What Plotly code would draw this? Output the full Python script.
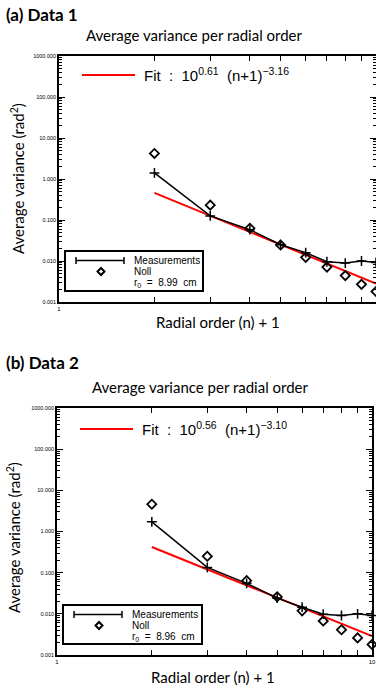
import plotly.graph_objects as go

W, H = 376, 690

# ---------------- data ----------------
orders = [2, 3, 4, 5, 6, 7, 8, 9, 10]          # radial order (n) + 1
meas_a = [1.41, 0.126, 0.058, 0.025, 0.016, 0.0096, 0.0089, 0.0100, 0.0092]
noll_a = [4.2, 0.23, 0.063, 0.0245, 0.0123, 0.0071, 0.0044, 0.0027, 0.0018]
meas_b = [1.72, 0.134, 0.055, 0.024, 0.0145, 0.0098, 0.0091, 0.0100, 0.0091]
noll_b = [4.6, 0.25, 0.064, 0.026, 0.0118, 0.0067, 0.0041, 0.0026, 0.0018]
fit_x = [2, 10]
fit_a = [0.46, 0.0028]
fit_b = [0.42, 0.0029]
fit_label_a = "Fit  :  10<sup>0.61</sup>  (n+1)<sup>−3.16</sup>"
fit_label_b = "Fit  :  10<sup>0.56</sup>  (n+1)<sup>−3.10</sup>"
r0_a = "8.99"
r0_b = "8.96"
ytick_vals = [0.001, 0.01, 0.1, 1, 10, 100, 1000]
ytick_text = ["0.001", "0.010", "0.100", "1.000", "10.000", "100.000", "1000.000"]
xtick_vals = [1, 10]
xtick_text = ["1", "10"]
xminor_vals = [2, 3, 4, 5, 6, 7, 8, 9]

minor_y = [m * 10 ** e for e in range(-3, 3) for m in range(2, 10)]


def px(x):
    return x / W


def py(y):
    return 1 - y / H


fig = go.Figure()

panels = [
    dict(xa="x", ya="y", l=59, r=376, t=56, b=302, meas=meas_a, noll=noll_a, fit=fit_a,
         fitlabel=fit_label_a, r0=r0_a, head="(a) Data 1", head_y=15, title_y=35, title_x=194,
         fit_y=75, fit_l=82, fit_r=135, leg=(65, 203, 251, 291), ylab_x=17, ylab_y=179, xlab_y=322, xlab_x=218),
    dict(xa="x2", ya="y2", l=57, r=372, t=408, b=655, meas=meas_b, noll=noll_b, fit=fit_b,
         fitlabel=fit_label_b, r0=r0_b, head="(b) Data 2", head_y=362, title_y=387, title_x=201,
         fit_y=429, fit_l=80, fit_r=133, leg=(63, 202, 605, 644), ylab_x=13, ylab_y=538, xlab_y=677, xlab_x=213),
]

shapes = []
annotations = []
TXT = "Lato"
IDL = "Liberation Sans"

for i, p in enumerate(panels):
    fig.add_trace(go.Scatter(x=fit_x, y=p["fit"], mode="lines", line=dict(color="#ff0000", width=2),
                             xaxis=p["xa"], yaxis=p["ya"], showlegend=False, cliponaxis=False))
    fig.add_trace(go.Scatter(x=orders, y=p["meas"], mode="lines+markers",
                             line=dict(color="black", width=1.5),
                             marker=dict(symbol="cross-thin", size=7, line=dict(color="black", width=1.5)),
                             xaxis=p["xa"], yaxis=p["ya"], showlegend=False, cliponaxis=False))
    fig.add_trace(go.Scatter(x=orders, y=p["noll"], mode="markers",
                             marker=dict(symbol="diamond-open", size=7, color="black", line=dict(width=1.8)),
                             xaxis=p["xa"], yaxis=p["ya"], showlegend=False, cliponaxis=False))

    sfx = "" if i == 0 else "2"
    axcommon = dict(showgrid=False, zeroline=False, showline=True, linecolor="black", linewidth=1.5,
                    mirror="allticks", ticks="inside", tickcolor="black", tickwidth=1, automargin=False)
    fig.update_layout(**{
        "xaxis" + sfx: dict(type="log", range=[0, 1], domain=[px(p["l"]), px(p["r"])], anchor="y" + sfx,
                            tickmode="array", tickvals=xtick_vals, ticktext=xtick_text, ticklen=6,
                            minor=dict(tickmode="array", tickvals=xminor_vals, ticks="inside", ticklen=5,
                                       tickcolor="black", tickwidth=1),
                            tickfont=dict(size=6, family=IDL, color="black"), **axcommon),
        "yaxis" + sfx: dict(type="log", range=[-3, 3], domain=[py(p["b"]), py(p["t"])], anchor="x" + sfx,
                            tickmode="array", tickvals=ytick_vals, ticktext=ytick_text, ticklen=6,
                            minor=dict(tickmode="array", tickvals=minor_y, ticks="inside", ticklen=3,
                                       tickcolor="black", tickwidth=1),
                            tickfont=dict(size=5.5, family=IDL, color="black"), **axcommon),
    })

    annotations.append(dict(text="<b>" + p["head"] + "</b>", x=px(4), y=py(p["head_y"]), xref="paper", yref="paper",
                            xanchor="left", yanchor="middle", showarrow=False,
                            font=dict(family=TXT, size=17, color="black")))
    annotations.append(dict(text="Average variance per radial order", x=px(p["title_x"]), y=py(p["title_y"]),
                            xref="paper", yref="paper", xanchor="center", yanchor="middle", showarrow=False,
                            font=dict(family=TXT, size=15, color="black")))
    annotations.append(dict(text="Average variance (rad<sup>2</sup>)", x=px(p["ylab_x"]), y=py(p["ylab_y"]),
                            xref="paper", yref="paper", xanchor="center", yanchor="middle", showarrow=False,
                            textangle=-90, font=dict(family=TXT, size=15, color="black")))
    annotations.append(dict(text="Radial order (n) + 1", x=px(p["xlab_x"]), y=py(p["xlab_y"]),
                            xref="paper", yref="paper", xanchor="center", yanchor="middle", showarrow=False,
                            font=dict(family=TXT, size=15, color="black")))

    shapes.append(dict(type="line", xref="paper", yref="paper", x0=px(p["fit_l"]), x1=px(p["fit_r"]),
                       y0=py(p["fit_y"]), y1=py(p["fit_y"]), line=dict(color="#ff0000", width=2)))
    annotations.append(dict(text=p["fitlabel"], x=px(p["fit_r"] + 7), y=py(p["fit_y"] - 1), xref="paper",
                            yref="paper", xanchor="left", yanchor="middle", showarrow=False,
                            font=dict(family=IDL, size=15, color="black")))

    l, r, t, b = p["leg"]
    shapes.append(dict(type="rect", xref="paper", yref="paper", x0=px(l), x1=px(r), y0=py(b), y1=py(t),
                       line=dict(color="black", width=2), fillcolor="white", layer="above"))
    ly = t + 9.5
    x0, x1 = l + 11, l + 59
    shapes.append(dict(type="line", xref="paper", yref="paper", x0=px(x0), x1=px(x1), y0=py(ly), y1=py(ly),
                       line=dict(color="black", width=1.5), layer="above"))
    for xx in (x0, x1):
        shapes.append(dict(type="line", xref="paper", yref="paper", x0=px(xx), x1=px(xx),
                           y0=py(ly - 3.5), y1=py(ly + 3.5), line=dict(color="black", width=1.5), layer="above"))
    dx, dy, d = l + 36, t + 20.5, 3.5
    path = "M {} {} L {} {} L {} {} L {} {} Z".format(px(dx), py(dy - d), px(dx + d), py(dy),
                                                      px(dx), py(dy + d), px(dx - d), py(dy))
    shapes.append(dict(type="path", xref="paper", yref="paper", path=path,
                       line=dict(color="black", width=2), layer="above"))
    for txt, yy in (("Measurements", t + 9.5), ("Noll", t + 20.5), ("r<sub>0</sub>  =  " + p["r0"] + "  cm", t + 31.5)):
        annotations.append(dict(text=txt, x=px(l + 67), y=py(yy), xref="paper", yref="paper", xanchor="left",
                                yanchor="middle", showarrow=False, font=dict(family=IDL, size=10, color="black")))

fig.update_layout(width=W, height=H, margin=dict(l=0, r=0, t=0, b=0), paper_bgcolor="white",
                  plot_bgcolor="white", shapes=shapes, annotations=annotations, showlegend=False)

fig.write_html("out.html")
